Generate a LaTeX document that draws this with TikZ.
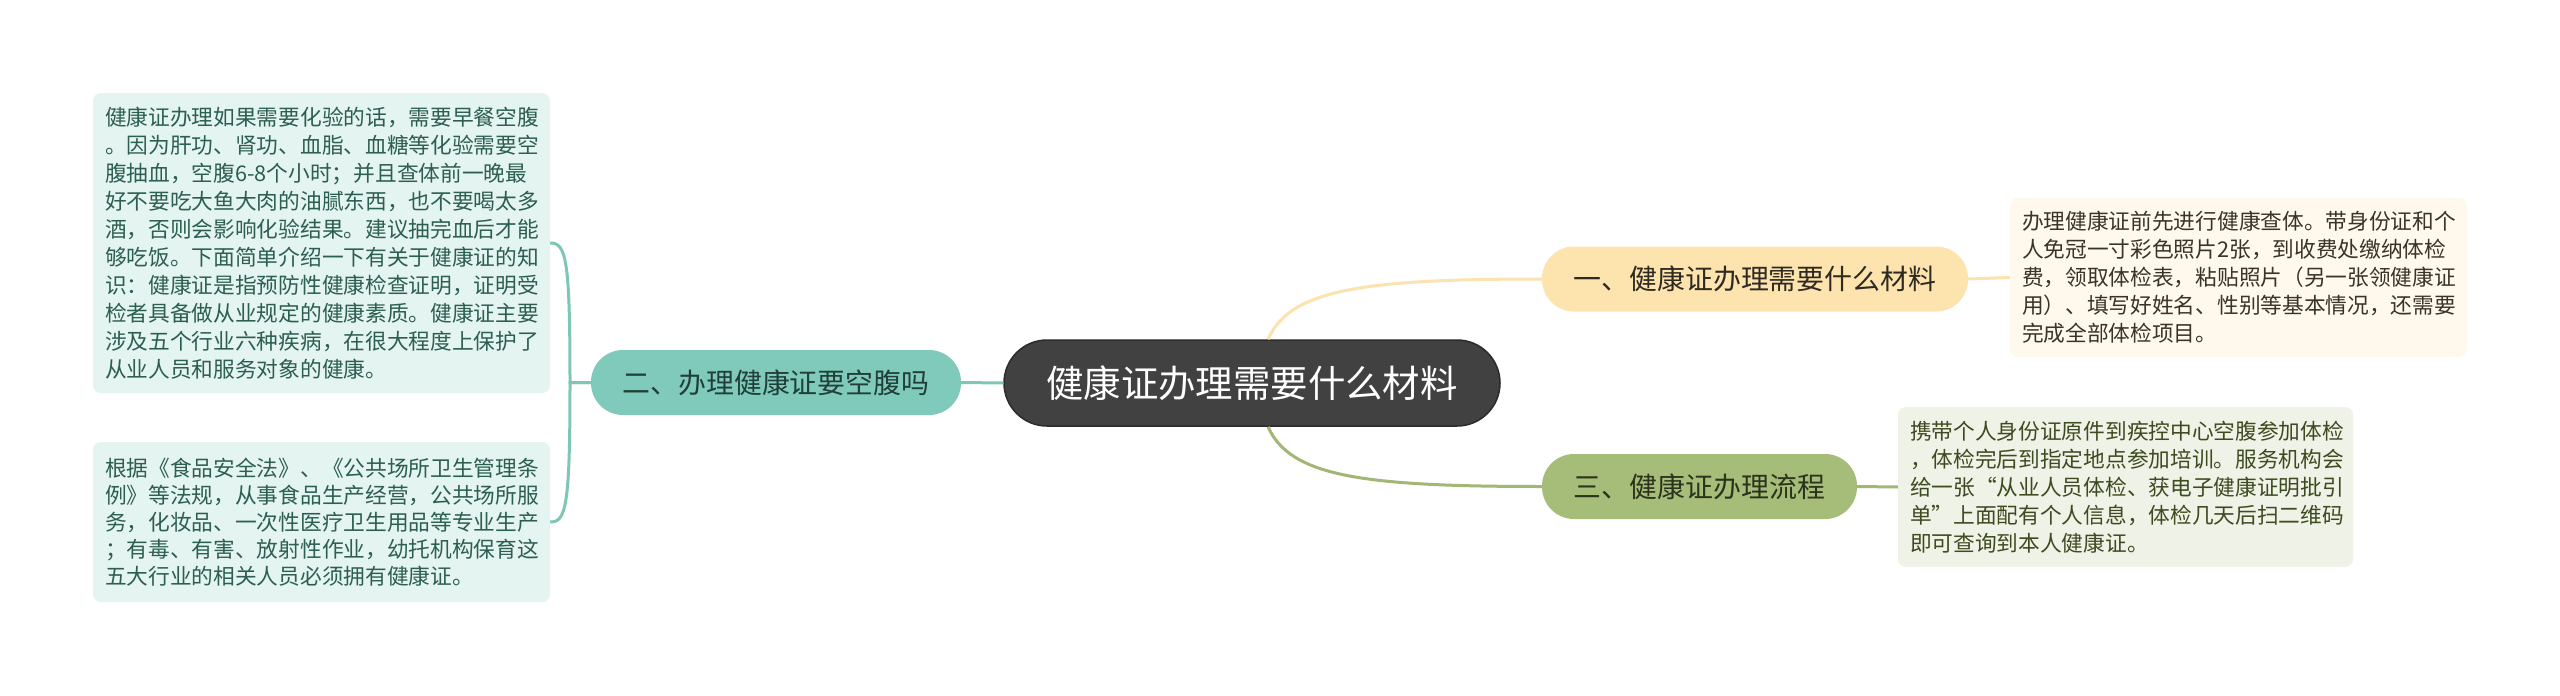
\documentclass[tikz,border=0pt]{standalone}
\usepackage{fontspec}
\setmainfont{Noto Sans CJK SC}
\definecolor{centerfill}{HTML}{414141}
\definecolor{centerdraw}{HTML}{2B2B2B}
\definecolor{orangefill}{HTML}{FDE3AE}
\definecolor{orangeline}{HTML}{FBE2AE}
\definecolor{greenfill}{HTML}{A6BD79}
\definecolor{greenline}{HTML}{A2B775}
\definecolor{tealfill}{HTML}{80CABB}
\definecolor{tealline}{HTML}{7EC7B7}
\definecolor{leafteal}{HTML}{E4F4F0}
\definecolor{leaforange}{HTML}{FEF9EC}
\definecolor{leafgreen}{HTML}{EFF2E6}
\definecolor{txtteal}{HTML}{2C5E51}
\definecolor{txtorange}{HTML}{3A3428}
\definecolor{txtgreen}{HTML}{3E4A20}
\definecolor{subtxtorange}{HTML}{2E2A22}
\definecolor{subtxtteal}{HTML}{1F3F38}
\definecolor{subtxtgreen}{HTML}{2B331C}
\tikzset{
  centernode/.style={fill=centerfill, draw=centerdraw, line width=1.5pt, rounded corners=43pt,
    minimum width=496pt, minimum height=86pt, inner sep=0pt, text=white,
    font=\fontsize{37.4pt}{40pt}\selectfont},
  subnode/.style={rounded corners=32pt, minimum height=65pt, inner sep=0pt,
    font=\fontsize{27.9pt}{30pt}\selectfont},
  leafnode/.style={rounded corners=8pt, inner sep=0pt, align=left,
    font=\fontsize{21.7pt}{28pt}\selectfont},
  conn/.style={line width=3pt}
}
\begin{document}
\begin{tikzpicture}[x=1pt,y=-1pt]
\fill[white] (0,0) rectangle (2560,696);
\useasboundingbox (0,0) rectangle (2560,696);

\node[centernode] (c) at (1252,383) {健康证办理需要什么材料};

\node[subnode, fill=orangefill, text=subtxtorange, minimum width=426pt] (n1) at (1755,279) {一、健康证办理需要什么材料};
\node[subnode, fill=tealfill, text=subtxtteal, minimum width=370pt] (n2) at (776,382.5) {二、办理健康证要空腹吗};
\node[subnode, fill=greenfill, text=subtxtgreen, minimum width=315pt] (n3) at (1699.5,486.5) {三、健康证办理流程};

\node[leafnode, fill=leafteal, text=txtteal, minimum width=457pt, minimum height=300pt, text width=433pt] (l1) at (321.5,243) {健康证办理如果需要化验的话，需要早餐空腹\\。因为肝功、肾功、血脂、血糖等化验需要空\\腹抽血，空腹6-8个小时；并且查体前一晚最\\好不要吃大鱼大肉的油腻东西，也不要喝太多\\酒，否则会影响化验结果。建议抽完血后才能\\够吃饭。下面简单介绍一下有关于健康证的知\\识：健康证是指预防性健康检查证明，证明受\\检者具备做从业规定的健康素质。健康证主要\\涉及五个行业六种疾病，在很大程度上保护了\\从业人员和服务对象的健康。};

\node[leafnode, fill=leafteal, text=txtteal, minimum width=457pt, minimum height=160pt, text width=433pt, font=\fontsize{21.7pt}{27pt}\selectfont] (l2) at (321.5,522) {根据《食品安全法》、《公共场所卫生管理条\\例》等法规，从事食品生产经营，公共场所服\\务，化妆品、一次性医疗卫生用品等专业生产\\；有毒、有害、放射性作业，幼托机构保育这\\五大行业的相关人员必须拥有健康证。};

\node[leafnode, fill=leaforange, text=txtorange, minimum width=457pt, minimum height=159pt, text width=433pt] (r1) at (2238.5,277.5) {办理健康证前先进行健康查体。带身份证和个\\人免冠一寸彩色照片2张，到收费处缴纳体检\\费，领取体检表，粘贴照片（另一张领健康证\\用）、填写好姓名、性别等基本情况，还需要\\完成全部体检项目。};

\node[leafnode, fill=leafgreen, text=txtgreen, minimum width=455pt, minimum height=160pt, text width=431pt] (r2) at (2125.5,487) {携带个人身份证原件到疾控中心空腹参加体检\\，体检完后到指定地点参加培训。服务机构会\\给一张“从业人员体检、获电子健康证明批引\\单”上面配有个人信息，体检几天后扫二维码\\即可查询到本人健康证。};

\draw[conn, draw=tealline] (n2.east) -- (c.west);
\draw[conn, draw=tealline] (n2.west) -- (570,382.5) .. controls (570,258) and (566,243) .. (l1.east);
\draw[conn, draw=tealline] (n2.west) -- (570,382.5) .. controls (570,507) and (566,522) .. (l2.east);
\draw[conn, draw=orangeline] ([xshift=16pt]c.north) .. controls (1290,290) and (1360,279) .. (n1.west);
\draw[conn, draw=greenline] ([xshift=16pt]c.south) .. controls (1290,476) and (1360,486.5) .. (n3.west);
\draw[conn, draw=orangeline] (n1.east) -- (r1.west);
\draw[conn, draw=greenline] (n3.east) -- (r2.west);
\end{tikzpicture}
\end{document}
